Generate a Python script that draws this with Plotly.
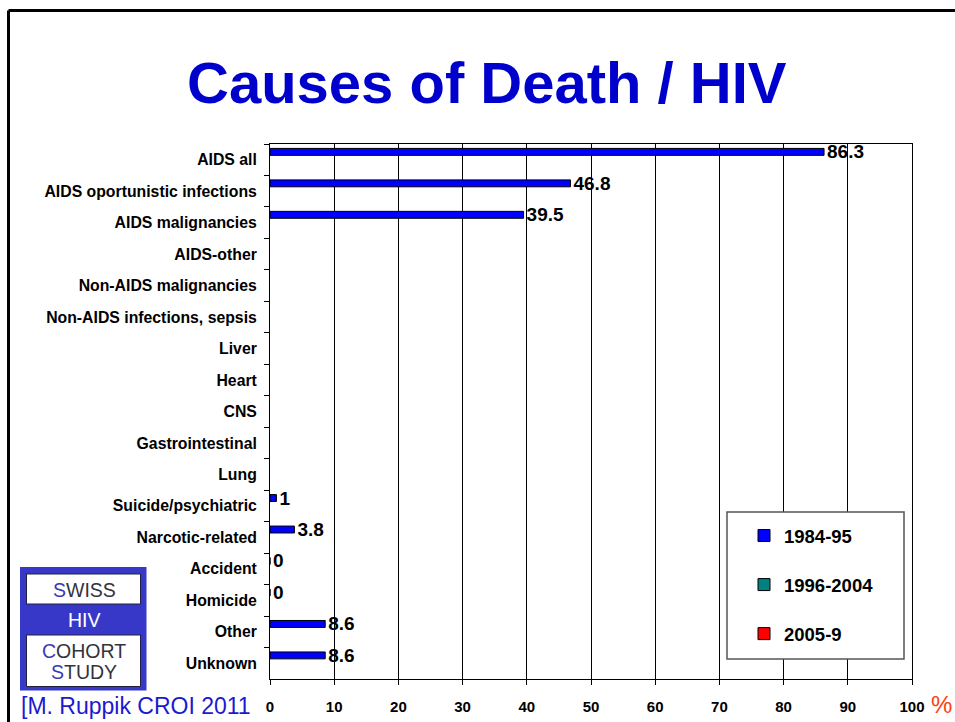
import plotly.graph_objects as go

# ---- data ----
categories = [
    "AIDS all", "AIDS oportunistic infections", "AIDS malignancies", "AIDS-other",
    "Non-AIDS malignancies", "Non-AIDS infections, sepsis", "Liver", "Heart", "CNS",
    "Gastrointestinal", "Lung", "Suicide/psychiatric", "Narcotic-related",
    "Accident", "Homicide", "Other", "Unknown",
]
period_1984_95 = [86.3, 46.8, 39.5, None, None, None, None, None, None,
                  None, None, 1, 3.8, 0, 0, 8.6, 8.6]
period_1996_2004 = [None] * len(categories)
period_2005_9 = [None] * len(categories)
series_names = ["1984-95", "1996-2004", "2005-9"]
series_colors = ["#0000FF", "#008080", "#FF0000"]
x_ticks = [0, 10, 20, 30, 40, 50, 60, 70, 80, 90, 100]

FONT = "Arial, Liberation Sans, sans-serif"
W, H = 955, 722
L, R, T, B = 270, 43, 144, 43
PW, PH = W - L - R, H - T - B


def px(x):
    return (x - L) / PW


def py(y):
    return (H - B - y) / PH


def label(v):
    return "" if v is None else f"{v:g}"


fig = go.Figure()
offsets = [-0.36, -0.14, 0.08]
for name, vals, col, off in zip(series_names,
                                [period_1984_95, period_1996_2004, period_2005_9],
                                series_colors, offsets):
    fig.add_trace(go.Bar(
        y=categories, x=vals, orientation="h", name=name,
        width=0.22, offset=off,
        marker=dict(color=col, line=dict(color="black", width=1)),
        text=[label(v) for v in vals], textposition="outside",
        constraintext="none", cliponaxis=False,
        textfont=dict(family=FONT, size=19, color="black", weight="bold"),
        legendgroup=name,
    ))

shapes = [
    # slide frame (top and left)
    dict(type="line", xref="paper", yref="paper", x0=px(8.5), x1=px(W + 5),
         y0=py(10.5), y1=py(10.5), line=dict(color="black", width=3)),
    dict(type="line", xref="paper", yref="paper", x0=px(8.5), x1=px(8.5),
         y0=py(10.5), y1=py(H + 5), line=dict(color="black", width=3)),
    # legend box
    dict(type="rect", xref="paper", yref="paper", x0=px(727), x1=px(904),
         y0=py(512), y1=py(659), fillcolor="white",
         line=dict(color="#555555", width=1.5), layer="above"),
    # cohort logo
    dict(type="rect", xref="paper", yref="paper", x0=px(20), x1=px(146.5),
         y0=py(567), y1=py(690.5), fillcolor="#3838C8", line_width=0, layer="above"),
    dict(type="rect", xref="paper", yref="paper", x0=px(26.5), x1=px(140.5),
         y0=py(574), y1=py(604), fillcolor="white",
         line=dict(color="#202040", width=1), layer="above"),
    dict(type="rect", xref="paper", yref="paper", x0=px(26.5), x1=px(140.5),
         y0=py(635), y1=py(686.5), fillcolor="white",
         line=dict(color="#202040", width=1), layer="above"),
]

blue_letter = "<span style='color:#3A3AB8'>{}</span>"
annotations = [
    dict(text="<b>Causes of Death / HIV</b>", x=px(487), y=py(83),
         font=dict(family=FONT, size=58, color="#0000CC")),
    dict(text="%", x=px(941), y=py(704), font=dict(family=FONT, size=24, color="#FF4010")),
    dict(text="[M. Ruppik CROI 2011", x=px(19), y=py(706), xanchor="left",
         font=dict(family=FONT, size=23, color="#1A1AD0")),
    dict(text=blue_letter.format("S") + "WISS", x=px(84), y=py(590),
         font=dict(family=FONT, size=19.5, color="#33333D")),
    dict(text="HIV", x=px(84), y=py(620), font=dict(family=FONT, size=19.5, color="white")),
    dict(text=blue_letter.format("C") + "OHORT", x=px(84), y=py(651),
         font=dict(family=FONT, size=19.5, color="#33333D")),
    dict(text=blue_letter.format("S") + "TUDY", x=px(84), y=py(672),
         font=dict(family=FONT, size=19.5, color="#33333D")),
]
for a in annotations:
    a.update(xref="paper", yref="paper", showarrow=False)
    a.setdefault("xanchor", "center")
    a.setdefault("yanchor", "middle")

fig.update_layout(
    width=W, height=H,
    margin=dict(l=L, r=R, t=T, b=B, pad=0, autoexpand=False),
    paper_bgcolor="white", plot_bgcolor="white",
    barmode="group",
    font=dict(family=FONT, color="black"),
    showlegend=True,
    legend=dict(
        x=px(744), y=py(517), xanchor="left", yanchor="top",
        bgcolor="rgba(0,0,0,0)", borderwidth=0,
        font=dict(family=FONT, size=18.5, color="black", weight="bold"),
        tracegroupgap=22, traceorder="grouped",
    ),
    xaxis=dict(
        range=[0, 100], tickvals=x_ticks, ticktext=[str(t) for t in x_ticks],
        showgrid=True, gridcolor="black", gridwidth=1,
        showline=True, linecolor="black", linewidth=1, mirror=True,
        ticks="outside", ticklen=5, tickcolor="black",
        ticklabelstandoff=9, automargin=False,
        tickfont=dict(family=FONT, size=15, color="black", weight="bold"),
        zeroline=False, fixedrange=True,
    ),
    yaxis=dict(
        type="category", categoryorder="array", categoryarray=categories,
        autorange="reversed",
        showgrid=False, showline=True, linecolor="black", linewidth=1, mirror=True,
        ticks="outside", ticklen=5, tickcolor="black", tickson="boundaries",
        ticklabelstandoff=9, automargin=False,
        tickfont=dict(family=FONT, size=15.8, color="black", weight="bold"),
        fixedrange=True,
    ),
    shapes=shapes,
    annotations=annotations,
)

fig.write_html("out.html")
